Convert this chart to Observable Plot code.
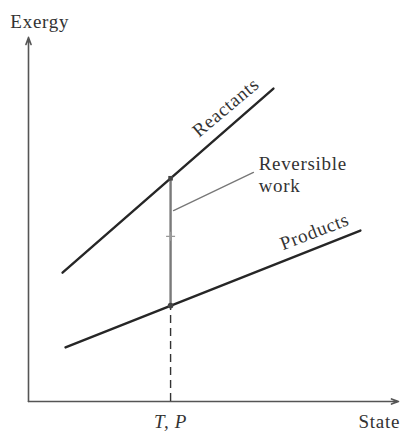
<!DOCTYPE html>
<html>
<head>
<meta charset="utf-8">
<script src="https://cdn.jsdelivr.net/npm/d3@7"></script>
<script src="https://cdn.jsdelivr.net/npm/@observablehq/plot@0.6"></script>
<style>
  html, body { margin: 0; padding: 0; background: #fff; }
  svg { display: block; }
</style>
</head>
<body>
<div id="chart"></div>
<script>
// Schematic data (arbitrary units)
const reactantsState = [9.2, 66.2];
const reactantsExergy = [35.5, 86.2];
const productsState = [10.0, 89.7];
const productsExergy = [14.9, 47.1];
const tpState = 38.4;            // state at T, P
const reactantsAtTP = 61.5;      // exergy of reactants at T, P
const productsAtTP = 26.4;       // exergy of products at T, P
const workMid = 45.5;            // midpoint marker on reversible work
const leaderState = [39.2, 60.8];
const leaderExergy = [52.6, 63.1];
const axisLabels = { y: "Exergy", x: "State", tp: "T, P" };
const curveLabels = ["Reactants", "Products", "Reversible\nwork"];

const reactants = reactantsState.map((s, i) => ({ s, e: reactantsExergy[i] }));
const products = productsState.map((s, i) => ({ s, e: productsExergy[i] }));
const leader = leaderState.map((s, i) => ({ s, e: leaderExergy[i] }));

const font = "'Liberation Serif', 'DejaVu Serif', serif";

const chart = Plot.plot({
  width: 400,
  height: 431,
  marginLeft: 28,
  marginRight: 2,
  marginTop: 38,
  marginBottom: 30,
  x: { domain: [0, 100], axis: null },
  y: { domain: [0, 100], axis: null },
  style: { fontFamily: font, background: "#fff", letterSpacing: "0.7px" },
  marks: [
    // axes
    Plot.arrow([{ x1: 0, y1: 0, x2: 0, y2: 100.3 }], { x1: "x1", y1: "y1", x2: "x2", y2: "y2", stroke: "#555", strokeWidth: 1.6, headLength: 7, headAngle: 40 }),
    Plot.arrow([{ x1: 0, y1: 0, x2: 100, y2: 0 }], { x1: "x1", y1: "y1", x2: "x2", y2: "y2", stroke: "#555", strokeWidth: 1.6, headLength: 7, headAngle: 40 }),
    // dashed drop line from products to the state axis
    Plot.ruleX([tpState], { y1: 0, y2: productsAtTP, stroke: "#333", strokeWidth: 1.4, strokeDasharray: "8,5" }),
    // reversible work vertical
    Plot.ruleX([tpState], { y1: productsAtTP, y2: reactantsAtTP, stroke: "#7a7a7a", strokeWidth: 2.4 }),
    // reactants & products lines
    Plot.line(reactants, { x: "s", y: "e", stroke: "#262626", strokeWidth: 2.4 }),
    Plot.line(products, { x: "s", y: "e", stroke: "#262626", strokeWidth: 2.4 }),
    // markers
    Plot.dot([{ s: tpState, e: reactantsAtTP }], { x: "s", y: "e", symbol: "square", r: 2.6, fill: "#444" }),
    Plot.dot([{ s: tpState, e: productsAtTP }], { x: "s", y: "e", r: 2.8, fill: "#444" }),
    Plot.dot([{ s: tpState, e: workMid }], { x: "s", y: "e", symbol: "plus", r: 3, stroke: "#999", strokeWidth: 1.2 }),
    // leader line
    Plot.line(leader, { x: "s", y: "e", stroke: "#777", strokeWidth: 1.3 }),
    // labels
    Plot.text([curveLabels[0]], { x: 53.3, y: 81.0, text: d => d, rotate: -40, fontSize: 19, fill: "#333", textAnchor: "middle", lineAnchor: "middle" }),
    Plot.text([curveLabels[1]], { x: 77.3, y: 46.8, text: d => d, rotate: -21, fontSize: 19, fill: "#333", textAnchor: "middle", lineAnchor: "middle" }),
    Plot.text([curveLabels[2]], { x: 62.2, y: 62.8, text: d => d, fontSize: 19, lineHeight: 1.17, fill: "#333", textAnchor: "start", lineAnchor: "middle" }),
    Plot.text([axisLabels.y], { x: -4.9, y: 103.0, text: d => d, fontSize: 19, fill: "#333", textAnchor: "start", lineAnchor: "bottom" }),
    Plot.text([axisLabels.x], { x: 89.2, y: -7.4, text: d => d, fontSize: 19, fill: "#333", textAnchor: "start", lineAnchor: "bottom" }),
    Plot.text([axisLabels.tp], { x: tpState, y: -7.4, text: d => d, fontSize: 19, fontStyle: "italic", fill: "#333", textAnchor: "middle", lineAnchor: "bottom" })
  ]
});
document.getElementById("chart").appendChild(chart);
</script>
</body>
</html>
